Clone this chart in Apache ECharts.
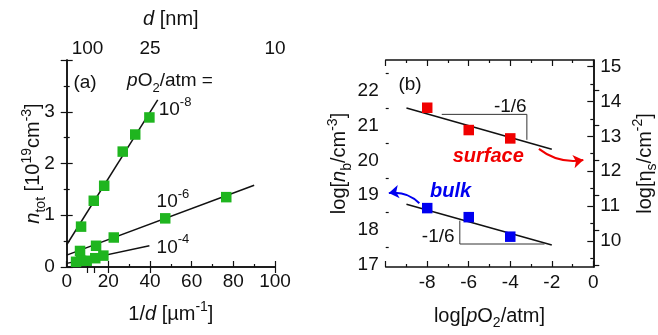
<!DOCTYPE html>
<html><head><meta charset="utf-8">
<script src="https://cdn.jsdelivr.net/npm/echarts@6/dist/echarts.min.js"></script>
<style>html,body{margin:0;padding:0;background:#fff}#c{width:658px;height:335px}</style>
</head><body><div id="c"></div>
<script>
// ---------- Panel (a): n_tot vs 1/d ----------
const invD_m8 = [6.9, 13.0, 18.0, 26.9, 32.9, 39.7];
const ntot_m8 = [0.78, 1.28, 1.57, 2.23, 2.56, 2.89];
const invD_m6 = [6.4, 14.1, 22.6, 47.3, 76.6];
const ntot_m6 = [0.31, 0.41, 0.57, 0.94, 1.35];
const invD_m4 = [4.5, 6.9, 9.6, 13.7, 17.6];
const ntot_m4 = [0.10, 0.12, 0.12, 0.17, 0.22];
const fitX_m8 = [0, 43.7], fitY_m8 = [0.43, 3.23];
const fitX_m6 = [0, 90], fitY_m6 = [0.23, 1.58];
const fitX_m4 = [0, 39.7], fitY_m4 = [0.07, 0.41];
const topTickD = [100, 75, 50, 25, 10];   // d [nm] tick marks on top axis
const topLabelD = [100, 25, 10];          // d [nm] labels on top axis

// ---------- Panel (b): log n vs log pO2 ----------
const logP = [-8, -6, -4];
const logNs = [13.82, 13.18, 12.94];      // surface (right axis)
const logNb = [18.63, 18.37, 17.81];      // bulk (left axis)
const fitSX = [-9, -2], fitSY = [13.81, 12.63];
const fitBX = [-9, -2], fitBY = [18.74, 17.57];
const triSX = [-7.3, -3.2, -3.2], triSY = [13.63, 13.63, 12.9];
const triBX = [-6.43, -6.43, -2.35], triBY = [18.27, 17.6, 17.6];
const leftTicks = [17, 18, 19, 20, 21, 22];
const leftMinor = [17.5, 18.5, 19.5, 20.5, 21.5, 22.5];
const rightTicks = [10, 11, 12, 13, 14, 15];
const rightMinor = [9.5, 10.5, 11.5, 12.5, 13.5, 14.5];

const FONT = 'Liberation Sans, Arial, sans-serif';
const INK = '#111';
const GREEN = '#1fb51f', RED = '#f00000', BLUE = '#0000f0';

function rich(size, color) {
  const s = Math.round(size * 0.68);
  const c = color || INK;
  return {
    i: {fontStyle: 'italic', fontSize: size, fontFamily: FONT, color: c, lineHeight: 28},
    sup: {fontSize: s, fontFamily: FONT, color: c, verticalAlign: 'top', lineHeight: s},
    sub: {fontSize: s, fontFamily: FONT, color: c, verticalAlign: 'bottom', lineHeight: s}
  };
}
function nameStyle(size) {
  return {fontSize: size, fontFamily: FONT, color: INK, lineHeight: 28, rich: rich(size)};
}
const zip = (a, b) => a.map((v, i) => [v, b[i]]);
const lineAx = {show: true, lineStyle: {color: INK, width: 1.5}};
const lab = (extra) => Object.assign({fontSize: 19, fontFamily: FONT, color: INK}, extra || {});

const xAxis = [
  { gridIndex: 0, type: 'value', position: 'bottom', min: 0, max: 100, interval: 20,
    axisLine: lineAx, splitLine: {show: false},
    axisTick: {inside: true, length: 6, lineStyle: {color: INK, width: 1.2}},
    minorTick: {show: true, splitNumber: 2, length: 3, lineStyle: {color: INK, width: 1.2}},
    axisLabel: lab({margin: 5}),
    name: '1/{i|d} [µm{sup|-1}]', nameLocation: 'middle', nameGap: 33, nameTextStyle: nameStyle(20) },
  { gridIndex: 0, type: 'value', position: 'top', min: 0, max: 100,
    axisLine: lineAx, splitLine: {show: false},
    axisTick: {inside: true, length: 6, lineStyle: {color: INK, width: 1.2}, customValues: topTickD.map(d => 1000 / d)},
    axisLabel: lab({margin: 2, customValues: topLabelD.map(d => 1000 / d), formatter: v => String(Math.round(1000 / v))}),
    name: '{i|d} [nm]', nameLocation: 'middle', nameGap: 27, nameTextStyle: nameStyle(20) },
  { gridIndex: 1, type: 'value', position: 'bottom', min: -10, max: 0, interval: 2,
    axisLine: lineAx, splitLine: {show: false},
    axisTick: {inside: true, length: 6, lineStyle: {color: INK, width: 1.2}},
    minorTick: {show: true, splitNumber: 2, length: 3, lineStyle: {color: INK, width: 1.2}},
    axisLabel: lab({margin: 6, formatter: v => (v === -10 ? '' : String(v))}),
    name: 'log[{i|p}O{sub|2}/atm]', nameLocation: 'middle', nameGap: 35, nameTextStyle: nameStyle(20) },
  { gridIndex: 1, type: 'value', position: 'top', min: -10, max: 0, interval: 2,
    axisLine: lineAx, splitLine: {show: false},
    axisTick: {inside: true, length: 6, lineStyle: {color: INK, width: 1.2}},
    minorTick: {show: true, splitNumber: 2, length: 3, lineStyle: {color: INK, width: 1.2}},
    axisLabel: {show: false} }
];

const yAxis = [
  { gridIndex: 0, type: 'value', position: 'left', min: 0, max: 4, interval: 1,
    axisLine: lineAx, splitLine: {show: false},
    axisTick: {inside: true, length: 6, lineStyle: {color: INK, width: 1.2}},
    minorTick: {show: true, splitNumber: 2, length: 3, lineStyle: {color: INK, width: 1.2}},
    axisLabel: lab({margin: 12, formatter: v => (v === 4 ? '' : String(v))}),
    name: '{i|n}{sub|tot} [10{sup|19}cm{sup|-3}]', nameLocation: 'middle', nameGap: 19, nameMoveOverlap: false,
    nameTextStyle: nameStyle(20) },
  { gridIndex: 0, type: 'value', position: 'right', min: 0, max: 4, interval: 1,
    axisLine: lineAx, splitLine: {show: false},
    axisTick: {inside: true, length: 6, lineStyle: {color: INK, width: 1.2}},
    minorTick: {show: true, splitNumber: 2, length: 3, lineStyle: {color: INK, width: 1.2}},
    axisLabel: {show: false} },
  { gridIndex: 1, type: 'value', position: 'left', min: 16.94, max: 22.88,
    axisLine: lineAx, splitLine: {show: false},
    axisTick: {inside: true, length: 6, lineStyle: {color: INK, width: 1.2}, customValues: leftTicks},
    axisLabel: lab({margin: 7, customValues: leftTicks}),
    name: 'log[{i|n}{sub|b}/cm{sup|-3}]', nameLocation: 'middle', nameGap: 31, nameTextStyle: nameStyle(20) },
  { gridIndex: 1, type: 'value', position: 'right', min: 9.25, max: 15.19,
    axisLine: lineAx, splitLine: {show: false},
    axisTick: {inside: true, length: 6, lineStyle: {color: INK, width: 1.2}, customValues: rightTicks},
    axisLabel: lab({margin: 7, customValues: rightTicks}),
    name: 'log[η{sub|s}/cm{sup|-2}]', nameLocation: 'middle', nameGap: 38, nameTextStyle: nameStyle(20) },
  { gridIndex: 1, type: 'value', position: 'left', min: 16.94, max: 22.88,
    axisLine: {show: false}, splitLine: {show: false},
    axisTick: {inside: true, length: 3, lineStyle: {color: INK, width: 1.2}, customValues: leftMinor},
    axisLabel: {show: false} },
  { gridIndex: 1, type: 'value', position: 'right', min: 9.25, max: 15.19,
    axisLine: {show: false}, splitLine: {show: false},
    axisTick: {inside: true, length: 3, lineStyle: {color: INK, width: 1.2}, customValues: rightMinor},
    axisLabel: {show: false} }
];

function sq(data, color, xi, yi) {
  return {type: 'scatter', xAxisIndex: xi, yAxisIndex: yi, data, symbol: 'rect', symbolSize: 10.5,
          itemStyle: {color, opacity: 1}, z: 4, silent: true};
}
function fit(data, xi, yi, w, c) {
  return {type: 'line', xAxisIndex: xi, yAxisIndex: yi, data, showSymbol: false, symbol: 'none',
          lineStyle: {color: c || INK, width: w || 1.5}, z: 3, silent: true};
}
function txt(x, y, text, xi, yi, style, color) {
  return {type: 'scatter', xAxisIndex: xi, yAxisIndex: yi, symbolSize: 0.01, silent: true, z: 6,
    itemStyle: {opacity: 1, color: 'rgba(0,0,0,0)'},
    data: [{value: [x, y]}],
    label: Object.assign({show: true, position: 'inside', formatter: text, fontSize: 19, fontFamily: FONT,
      color: color || INK, opacity: 1, lineHeight: 28, rich: rich(19, color)}, style || {})};
}
function arrow(p1, p2, curv, color, xi, yi) {
  return {type: 'lines', coordinateSystem: 'cartesian2d', xAxisIndex: xi, yAxisIndex: yi, silent: true, z: 5,
    symbol: ['none', 'arrow'], symbolSize: 10,
    lineStyle: {color, width: 2, curveness: curv, opacity: 1},
    data: [{coords: [p1, p2]}]};
}

const series = [
  fit(zip(fitX_m8, fitY_m8), 0, 0), fit(zip(fitX_m6, fitY_m6), 0, 0), fit(zip(fitX_m4, fitY_m4), 0, 0),
  sq(zip(invD_m8, ntot_m8), GREEN, 0, 0), sq(zip(invD_m6, ntot_m6), GREEN, 0, 0), sq(zip(invD_m4, ntot_m4), GREEN, 0, 0),
  txt(8.8, 3.56, '(a)', 0, 0),
  txt(49.6, 3.6, '{i|p}O{sub|2}/atm =', 0, 0),
  txt(52, 3.03, '10{sup|-8}', 0, 0),
  txt(51, 1.26, '10{sup|-6}', 0, 0),
  txt(51, 0.38, '10{sup|-4}', 0, 0),

  fit(zip(fitSX, fitSY), 2, 3), fit(zip(fitBX, fitBY), 2, 2),
  fit(zip(triSX, triSY), 2, 3, 1, '#333'), fit(zip(triBX, triBY), 2, 2, 1, '#333'),
  sq(zip(logP, logNs), RED, 2, 3), sq(zip(logP, logNb), BLUE, 2, 2),
  arrow([-2.62, 12.64], [-0.48, 12.32], -0.22, RED, 2, 3),
  arrow([-8.38, 18.77], [-9.85, 19.06], -0.25, BLUE, 2, 2),
  txt(-8.83, 22.16, '(b)', 2, 2),
  txt(-4.0, 13.85, '-1/6', 2, 3),
  txt(-7.47, 17.81, '-1/6', 2, 2),
  txt(-5.06, 12.42, 'surface', 2, 3, {fontWeight: 'bold', fontStyle: 'italic', fontSize: 20}, RED),
  txt(-6.87, 19.10, 'bulk', 2, 2, {fontWeight: 'bold', fontStyle: 'italic', fontSize: 20}, BLUE)
];

const chart = echarts.init(document.getElementById('c'), null, {renderer: 'canvas'});
chart.setOption({
  animation: false,
  backgroundColor: '#fff',
  textStyle: {fontFamily: FONT},
  grid: [
    {left: 66.7, top: 60, width: 208.3, height: 207, containLabel: false, outerBoundsMode: 'none'},
    {left: 385.7, top: 60, width: 207.6, height: 207, containLabel: false, outerBoundsMode: 'none'}
  ],
  xAxis, yAxis, series
});
</script></body></html>
